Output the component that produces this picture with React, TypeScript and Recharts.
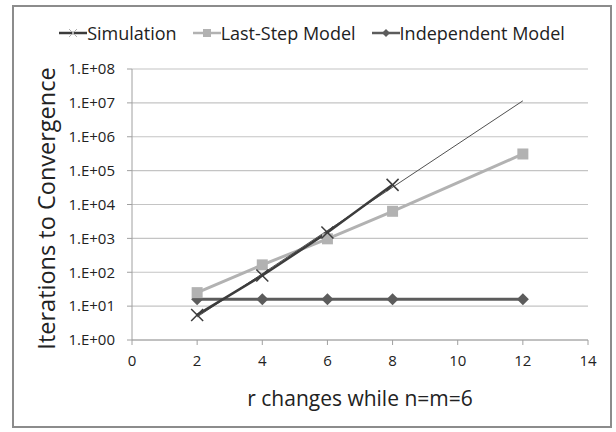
import React from 'react'
import { LineChart, Line, XAxis, YAxis, CartesianGrid, Legend } from 'recharts'

// r values and iterations
const simX = [2, 4, 6, 8]
const simulation = [5.5, 80, 1500, 38000]

const modelX = [2, 4, 6, 8, 12]
const lastStep = [25, 165, 970, 6300, 310000]
const independent = [16, 16, 16, 16, 16]

// thin exponential trend drawn over the simulation points
const trendX = [2, 12]
const trend = [4.8, 1.15e7]

const xTicks = [0, 2, 4, 6, 8, 10, 12, 14]
const yTicks = [1, 1e1, 1e2, 1e3, 1e4, 1e5, 1e6, 1e7, 1e8]

const seriesNames = ['Simulation', 'Last-Step Model', 'Independent Model']

const FONT = '"Open Sans", sans-serif'
const C_SIM = '#3c3c3c'
const C_LAST = '#b2b2b2'
const C_IND = '#5c5c5c'

const toRows = (xs: number[], ys: number[]) => xs.map((x, i) => ({ x, y: ys[i] }))

const simData = toRows(simX, simulation)
const lastData = toRows(modelX, lastStep)
const indData = toRows(modelX, independent)
const trendData = toRows(trendX, trend)

const fmtExp = (v: number) => `1.E+${String(Math.round(Math.log10(v))).padStart(2, '0')}`

function Cross({ cx, cy, size = 6, color, w = 1.5 }: any) {
  return (
    <g>
      <line x1={cx - size} y1={cy - size} x2={cx + size} y2={cy + size} stroke={color} strokeWidth={w} />
      <line x1={cx - size} y1={cy + size} x2={cx + size} y2={cy - size} stroke={color} strokeWidth={w} />
    </g>
  )
}

function Square({ cx, cy, size = 5.5, color }: any) {
  return <rect x={cx - size} y={cy - size} width={size * 2} height={size * 2} fill={color} />
}

function Diamond({ cx, cy, size = 6, color }: any) {
  return <polygon points={`${cx},${cy - size} ${cx + size},${cy} ${cx},${cy + size} ${cx - size},${cy}`} fill={color} />
}

function LegendIcon({ idx }: { idx: number }) {
  const color = [C_SIM, C_LAST, C_IND][idx]
  return (
    <svg width={28} height={16} style={{ display: 'block' }}>
      <line x1={0} y1={8} x2={28} y2={8} stroke={color} strokeWidth={2.5} />
      {idx === 0 && <Cross cx={14} cy={8} size={4} color={'#b0b0b0'} w={1} />}
      {idx === 1 && <Square cx={14} cy={8} size={4} color={color} />}
      {idx === 2 && <Diamond cx={14} cy={8} size={4} color={color} />}
    </svg>
  )
}

function TopLegend() {
  return (
    <div
      style={{
        display: 'flex',
        justifyContent: 'center',
        gap: 16,
        fontFamily: FONT,
        fontSize: 18,
        lineHeight: '26px',
        color: '#222',
        paddingLeft: 8,
      }}
    >
      {seriesNames.map((name) => (
        <div key={name} style={{ display: 'flex', alignItems: 'center' }}>
          <LegendIcon idx={seriesNames.indexOf(name)} />
          <span>{name}</span>
        </div>
      ))}
    </div>
  )
}

export default function App() {
  return (
    <div style={{ position: 'absolute', left: 0, top: 0, width: 616, height: 432, background: '#fff' }}>
      <div
        style={{
          position: 'absolute',
          left: 12,
          top: 5,
          width: 600,
          height: 423,
          border: '2px solid #8c8c8c',
          boxSizing: 'border-box',
        }}
      />
      <LineChart width={616} height={432} margin={{ top: 69, right: 28, bottom: 20, left: 0 }}>
        <CartesianGrid vertical={false} stroke="#c4c4c4" strokeWidth={1.2} />
        <XAxis
          type="number"
          dataKey="x"
          domain={[0, 14]}
          ticks={xTicks}
          height={72}
          stroke="#a0a0a0"
          tickSize={5}
          tickMargin={10}
          tick={{ fontSize: 15, fill: '#222', fontFamily: FONT }}
          label={{
            content: ({ viewBox }: any) => (
              <text
                x={viewBox.x + viewBox.width / 2}
                y={viewBox.y + 58}
                textAnchor="middle"
                dominantBaseline="central"
                fontFamily={FONT}
                fontSize={21}
                fill="#222"
              >
                r changes while n=m=6
              </text>
            ),
          }}
        />
        <YAxis
          scale="log"
          domain={[1, 1e8]}
          ticks={yTicks}
          width={132}
          stroke="#a0a0a0"
          tickSize={5}
          tickMargin={12}
          tickFormatter={fmtExp}
          tick={{ fontSize: 15, fill: '#222', fontFamily: FONT }}
          label={{
            content: ({ viewBox }: any) => {
              const cy = viewBox.y + viewBox.height / 2 + 4
              return (
                <text
                  x={46}
                  y={cy}
                  transform={`rotate(-90 46 ${cy})`}
                  textAnchor="middle"
                  dominantBaseline="central"
                  fontFamily={FONT}
                  fontSize={23.5}
                  fill="#222"
                >
                  Iterations to Convergence
                </text>
              )
            },
          }}
        />
        <Legend verticalAlign="middle" wrapperStyle={{ top: 20, left: 0, width: 616 }} content={() => <TopLegend />} />
        <Line
          data={indData}
          dataKey="y"
          name="Independent Model"
          stroke={C_IND}
          strokeWidth={3}
          isAnimationActive={false}
          dot={(p: any) => <Diamond key={`i${p.index}`} cx={p.cx} cy={p.cy} size={6} color={C_IND} />}
        />
        <Line
          data={lastData}
          dataKey="y"
          name="Last-Step Model"
          stroke={C_LAST}
          strokeWidth={3}
          isAnimationActive={false}
          dot={(p: any) => <Square key={`l${p.index}`} cx={p.cx} cy={p.cy} size={5.5} color={C_LAST} />}
        />
        <Line
          data={trendData}
          dataKey="y"
          name="trend"
          legendType="none"
          stroke="#505050"
          strokeWidth={1}
          dot={false}
          isAnimationActive={false}
        />
        <Line
          data={simData}
          dataKey="y"
          name="Simulation"
          stroke={C_SIM}
          strokeWidth={2.5}
          isAnimationActive={false}
          dot={(p: any) => <Cross key={`s${p.index}`} cx={p.cx} cy={p.cy} size={6} color={C_SIM} />}
        />
      </LineChart>
    </div>
  )
}
